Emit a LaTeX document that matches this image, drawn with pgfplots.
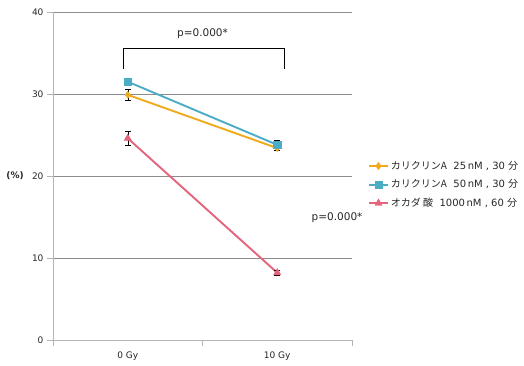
\documentclass[border=0pt]{standalone}
\usepackage{fontspec}
\setmainfont{DejaVu Sans}
\newfontfamily\jp{Noto Sans CJK JP}
\usepackage{pgfplots}
\pgfplotsset{compat=1.18}
\definecolor{cOr}{HTML}{F0AA1C}
\definecolor{cBl}{HTML}{4BACC6}
\definecolor{cPk}{HTML}{E3647C}
\definecolor{gridc}{HTML}{8C8C8C}
\definecolor{axc}{HTML}{B4B4B4}
\begin{document}
\begin{tikzpicture}[x=1pt,y=1pt]
\useasboundingbox (-53pt,-26pt) rectangle (471pt,340pt);
\begin{axis}[
  at={(0pt,0pt)}, anchor=south west,
  scale only axis, width=299pt, height=328pt,
  xmin=-0.5, xmax=1.5, ymin=0, ymax=40,
  ytick={0,10,20,30,40},
  xtick={-0.5,0.5,1.5}, xticklabels={},
  extra x ticks={0,1}, extra x tick labels={0 Gy,10 Gy},
  extra x tick style={major tick length=0pt, grid=none, tick label style={yshift=-8pt}},
  tick align=outside, major tick length=6pt,
  tick style={axc, line width=0.6pt},
  axis x line*=bottom, axis y line*=left,
  axis line style={axc, line width=0.8pt, -},
  ymajorgrids, grid style={gridc, line width=0.6pt},
  tick label style={font=\fontsize{9}{10}\selectfont, text=black!85},
  /pgf/number format/assume math mode=true,
  clip=false,
  legend style={at={(1.043,0.558)}, anchor=north west, draw=none, fill=none,
    font=\fontsize{10}{11}\selectfont, row sep=4.8pt, text=black!85,
    /tikz/every even column/.append style={column sep=2pt}},
  legend cell align=left,
  legend image code/.code={\draw[mark repeat=2,mark phase=2,line width=1.9pt] plot coordinates {(0pt,0pt) (9.5pt,0pt) (19pt,0pt)};},
  error bars/error bar style={black, line width=0.5pt},
  error bars/error mark options={black, rotate=90, mark size=2.8pt, line width=0.5pt},
]
\addplot[cOr, line width=1.9pt, mark=diamond*, mark size=3.6pt, mark options={fill=cOr, draw=cOr, line width=0.4pt},
  error bars/.cd, y dir=both, y explicit]
  coordinates {(0,29.9) +- (0,0.7) (1,23.4) +- (0,0.3)};
\addlegendentry{{\jp カリクリンA}\ \ 25\,nM , 30 {\jp 分}}
\addplot[cBl, line width=1.9pt, mark=square*, mark size=3.6pt, mark options={fill=cBl, draw=cBl, line width=0.4pt},
  error bars/.cd, y dir=both, y explicit]
  coordinates {(0,31.5) +- (0,0.4) (1,23.8) +- (0,0.6)};
\addlegendentry{{\jp カリクリンA}\ \ 50\,nM , 30 {\jp 分}}
\addplot[cPk, line width=1.9pt, mark=triangle*, mark size=4.2pt, mark options={fill=cPk, draw=cPk, line width=0.4pt},
  error bars/.cd, y dir=both, y explicit]
  coordinates {(0,24.6) +- (0,0.8) (1,8.2) +- (0,0.3)};
\addlegendentry{{\jp オカダ 酸}\ \ 1000\,nM , 60 {\jp 分}}
\draw[black, line width=0.8pt] (axis cs:-0.032,33.0) -- (axis cs:-0.032,35.6) -- (axis cs:1.045,35.6) -- (axis cs:1.045,33.0);
\node[font=\fontsize{10.5}{12}\selectfont, text=black!85] at (axis cs:0.5,37.3) {p=0.000*};
\node[font=\fontsize{10.5}{12}\selectfont, text=black!85] at (axis cs:1.40,14.9) {p=0.000*};
\node[font=\fontsize{9}{10}\bfseries\selectfont, text=black!85] at (rel axis cs:-0.127,0.5) {(\%)};
\end{axis}
\end{tikzpicture}
\end{document}
